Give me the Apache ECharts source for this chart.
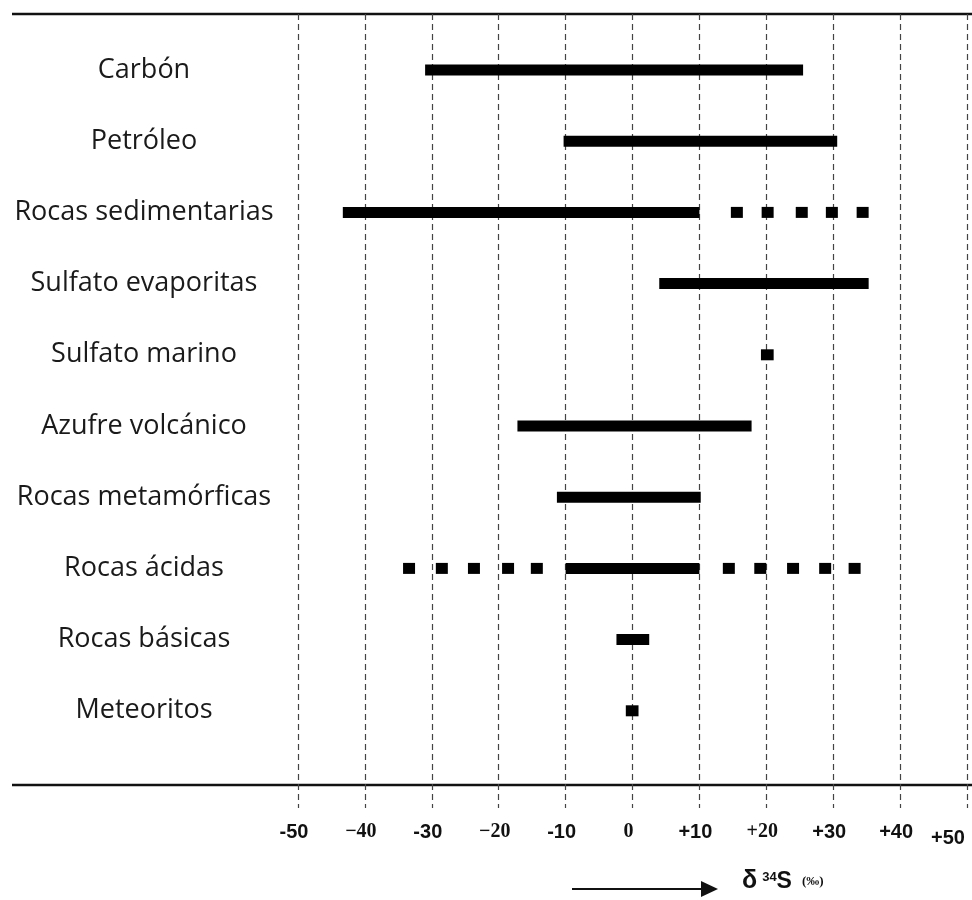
<!DOCTYPE html>
<html><head><meta charset="utf-8">
<script src="https://cdn.jsdelivr.net/npm/echarts@6/dist/echarts.min.js"></script>
<style>html,body{margin:0;padding:0;background:#fff}#c{width:972px;height:900px}</style>
</head><body><div id="c"></div>
<script>
// ---- data ----
const categories = ['Carbón','Petróleo','Rocas sedimentarias','Sulfato evaporitas','Sulfato marino','Azufre volcánico','Rocas metamórficas','Rocas ácidas','Rocas básicas','Meteoritos'];
const rangeStart = [-31, -10.3, -43.3, 4, 19.2, -17.2, -11.3, -10, -2.4, -1];
const rangeEnd   = [25.5, 30.6, 10, 35.3, 21.1, 17.8, 10.2, 10, 2.5, 0.9];
// dotted (uncertain) extensions: centre of each square
const dotCategory = ['Rocas sedimentarias','Rocas sedimentarias','Rocas sedimentarias','Rocas sedimentarias','Rocas sedimentarias',
  'Rocas ácidas','Rocas ácidas','Rocas ácidas','Rocas ácidas','Rocas ácidas',
  'Rocas ácidas','Rocas ácidas','Rocas ácidas','Rocas ácidas','Rocas ácidas'];
const dotValue = [15.6, 20.2, 25.3, 29.8, 34.4,
  -33.4, -28.5, -23.7, -18.6, -14.3,
  14.4, 19.1, 24.0, 28.8, 33.2];
const tickValues = [-50,-40,-30,-20,-10,0,10,20,30,40,50];
const tickLabels = ['-50','\u221240','-30','\u221220','-10','0','+10','+20','+30','+40','+50'];
const axisTitle = ['\u03b4', '34', 'S', '(\u2030)'];

// ---- chart ----
const serifTicks = new Set([-40,-20,0,20]);
const chart = echarts.init(document.getElementById('c'));
const option = {
  backgroundColor: '#ffffff',
  animation: false,
  grid: [
    {left: 298, right: 5, top: 34.4, bottom: 153.6, containLabel: false, outerBoundsMode: 'none'},
    {left: 298, right: 5, top: 14, bottom: 92, containLabel: false, outerBoundsMode: 'none'}
  ],
  xAxis: [
    {gridIndex: 0, type: 'value', min: -50, max: 50, interval: 10, show: false},
    {gridIndex: 1, type: 'value', min: -50, max: 50, interval: 10,
      axisLine: {show: false}, axisTick: {show: false},
      splitLine: {show: true, lineStyle: {color: '#444', width: 1.2, type: [6, 4]}},
      axisLabel: {margin: 14, padding: [0, 8, 0, 0], hideOverlap: false,
        formatter: v => {
          const i = tickValues.indexOf(v);
          const t = i >= 0 ? tickLabels[i] : '';
          if (v === 50) return '{se|' + t + '}';
          return serifTicks.has(v) ? '{sr|' + t + '}' : '{ss|' + t + '}';
        },
        rich: {
          ss: {fontFamily: 'Liberation Sans', fontWeight: 'bold', fontSize: 20, color: '#111'},
          se: {fontFamily: 'Liberation Sans', fontWeight: 'bold', fontSize: 20, color: '#111', padding: [6, 30, 0, 0]},
          sr: {fontFamily: 'Liberation Serif', fontWeight: 'bold', fontSize: 20, color: '#111'}
        }
      }
    }
  ],
  yAxis: [
    {gridIndex: 0, type: 'category', data: categories, inverse: true,
      axisLine: {show: false}, axisTick: {show: false}, splitLine: {show: false},
      axisLabel: {margin: 154, align: 'center', fontFamily: 'Open Sans', fontSize: 27,
        color: '#1a1a1a', padding: [0, 0, 10, 0]}
    },
    {gridIndex: 1, type: 'value', min: 0, max: 1, show: false}
  ],
  series: [
    {
      type: 'custom', xAxisIndex: 0, yAxisIndex: 0,
      data: categories.map((c, i) => [rangeStart[i], rangeEnd[i], c]),
      encode: {x: [0, 1], y: 2},
      renderItem: (params, api) => {
        const yi = api.value(2);
        const s = api.coord([api.value(0), yi]);
        const e = api.coord([api.value(1), yi]);
        const h = 11;
        return {type: 'rect', shape: {x: s[0], y: s[1] - h / 2, width: e[0] - s[0], height: h},
          style: {fill: '#000'}};
      }
    },
    {
      type: 'scatter', xAxisIndex: 0, yAxisIndex: 0,
      symbol: 'rect', symbolSize: [12, 11],
      itemStyle: {color: '#000', opacity: 1},
      data: dotValue.map((v, i) => [v, dotCategory[i]])
    }
  ],
  title: {
    left: 737, top: 864,
    text: '{d|' + axisTitle[0] + '} {sup|' + axisTitle[1] + '}{s|' + axisTitle[2] + '}  {p|' + axisTitle[3] + '}',
    textStyle: {
      rich: {
        d: {fontFamily: 'Liberation Sans', fontWeight: 'bold', fontSize: 25, color: '#111'},
        sup: {fontFamily: 'Liberation Sans', fontWeight: 'bold', fontSize: 13, color: '#111', padding: [0, 0, 9, 0]},
        s: {fontFamily: 'Liberation Sans', fontWeight: 'bold', fontSize: 23, color: '#111'},
        p: {fontFamily: 'Liberation Serif', fontWeight: 'bold', fontSize: 13, color: '#111'}
      }
    }
  },
  graphic: [
    {type: 'line', shape: {x1: 12, y1: 14, x2: 972, y2: 14}, style: {stroke: '#111', lineWidth: 2.5}},
    {type: 'line', shape: {x1: 12, y1: 785, x2: 972, y2: 785}, style: {stroke: '#111', lineWidth: 2.5}},
    {type: 'line', shape: {x1: 572, y1: 889, x2: 703, y2: 889}, style: {stroke: '#111', lineWidth: 2}},
    {type: 'polygon', shape: {points: [[701, 881], [718, 889], [701, 897]]}, style: {fill: '#111'}}
  ]
};
chart.setOption(option);
</script></body></html>
